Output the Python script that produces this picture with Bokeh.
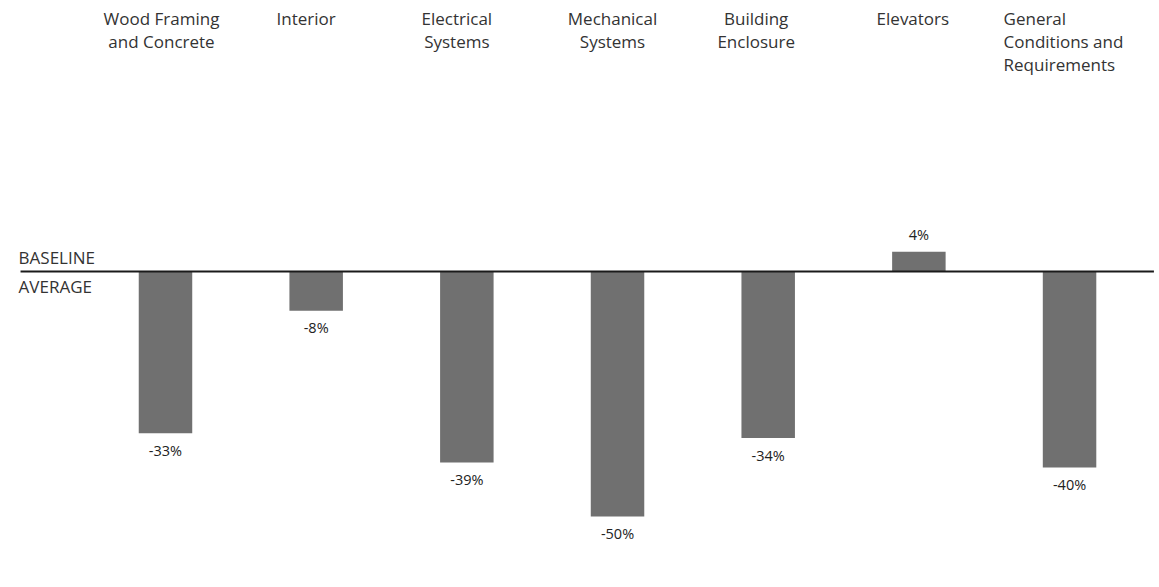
from bokeh.plotting import figure
from bokeh.models import ColumnDataSource, Range1d
from bokeh.embed import file_html
from bokeh.resources import INLINE
from bokeh.core.properties import value

categories = ["Wood Framing\nand Concrete", "Interior", "Electrical\nSystems",
              "Mechanical\nSystems", "Building\nEnclosure", "Elevators",
              "General\nConditions and\nRequirements"]
values = [-33, -8, -39, -50, -34, 4, -40]
value_labels = ["-33%", "-8%", "-39%", "-50%", "-34%", "4%", "-40%"]

FONT = "Open Sans"
xs = list(range(len(categories)))

src = ColumnDataSource(dict(
    x=xs, top=[max(v, 0) for v in values], bottom=[min(v, 0) for v in values],
    v=values, lab=value_labels, cat=categories,
    yoff=[17 if v < 0 else -17 for v in values],
    align=["center"] * 6 + ["left"],
    xoff=[-4, -10, -10, -5, -12, -6, -66],
    ytop=[55.3] * len(categories),
))

p = figure(width=1159, height=587, output_backend="svg", toolbar_location=None,
           x_range=Range1d(-1.095, 6.597), y_range=Range1d(-64.5, 55.3),
           min_border=0, min_border_left=0, min_border_right=0,
           min_border_top=0, min_border_bottom=0)
p.axis.visible = False
p.grid.visible = False
p.outline_line_color = None
p.background_fill_color = "white"
p.border_fill_color = "white"

p.vbar(x="x", top="top", bottom="bottom", width=0.355, source=src,
       fill_color="#707070", line_color=None)

# baseline
p.segment(x0=[-0.962], y0=[0], x1=[6.56], y1=[0], line_color="#1a1a1a", line_width=2)

p.text(x="x", y="v", text="lab", y_offset="yoff", source=src,
       text_align="center", text_baseline="middle",
       text_font=value(FONT), text_font_size="14.5px", text_color="#222222")

p.text(x="x", y="ytop", text="cat", source=src, x_offset="xoff", y_offset=6,
       text_align="align", text_baseline="top", text_line_height=1.02,
       text_font=value(FONT), text_font_size="17px", text_color="#333333")

p.text(x=[-0.975], y=[0], text=["BASELINE"], y_offset=-2,
       text_align="left", text_baseline="bottom",
       text_font=value(FONT), text_font_size="17px", text_color="#333333")
p.text(x=[-0.975], y=[0], text=["AVERAGE"], y_offset=4,
       text_align="left", text_baseline="top",
       text_font=value(FONT), text_font_size="17px", text_color="#333333")

open("out.html", "w").write(file_html(p, INLINE))
